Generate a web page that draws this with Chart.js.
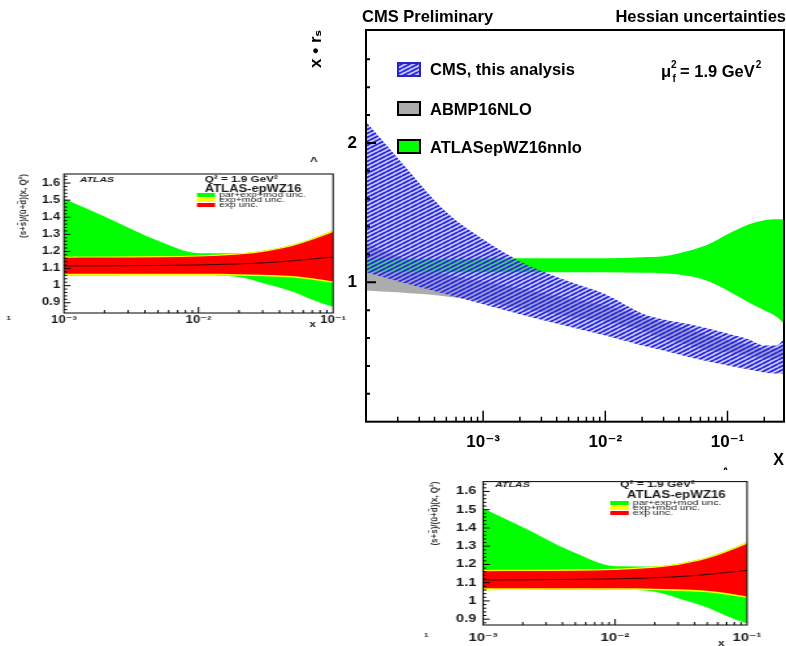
<!DOCTYPE html>
<html><head><meta charset="utf-8">
<script src="https://cdn.jsdelivr.net/npm/chart.js@4.4.1/dist/chart.umd.min.js"></script>
<style>
html,body{margin:0;padding:0;background:#fff;width:786px;height:646px;overflow:hidden;}
canvas{position:absolute;}
#main{left:290px;top:0;}
#insetL{left:0;top:150px;transform-origin:0 0;transform:scaleX(1.3);}
#insetB{left:420px;top:470px;transform-origin:0 0;transform:scaleX(1.33);}
</style></head><body>
<canvas id="main" width="496" height="470"></canvas>
<canvas id="insetL" width="277" height="185"></canvas>
<canvas id="insetB" width="275" height="176"></canvas>
<script>
// ---------- main CMS chart data ----------
const mainX      = [1.1e-4, 2e-4, 5e-4, 1e-3, 2e-3, 5e-3, 1e-2, 2e-2, 3e-2, 5e-2, 7e-2, 1e-1, 1.5e-1, 2e-1, 0.25, 0.29];
const cmsUpper   = [2.151, 1.892, 1.504, 1.309, 1.151, 1.007, 0.914, 0.777, 0.734, 0.698, 0.669, 0.633, 0.590, 0.547, 0.547, 0.590];
const cmsLower   = [1.072, 1.007, 0.914, 0.842, 0.770, 0.683, 0.619, 0.547, 0.511, 0.460, 0.432, 0.403, 0.374, 0.353, 0.345, 0.345];
const abmpUpper  = [1.281, 1.187, 1.058, 1.007, 0.957, 0.885, 0.835, 0.755, 0.712, 0.662, 0.619, 0.590, 0.554, 0.525, 0.525, 0.540];
const abmpLower  = [0.942, 0.928, 0.899, 0.863, 0.813, 0.755, 0.719, 0.655, 0.597, 0.547, 0.511, 0.496, 0.475, 0.453, 0.453, 0.460];
const atlasUpper = [1.165, 1.165, 1.165, 1.170, 1.173, 1.173, 1.173, 1.180, 1.187, 1.230, 1.273, 1.345, 1.417, 1.446, 1.452, 1.453];
const atlasLower = [1.072, 1.072, 1.072, 1.072, 1.072, 1.072, 1.072, 1.068, 1.065, 1.043, 1.007, 0.942, 0.856, 0.799, 0.755, 0.705];
const mainSeries = ['CMS, this analysis', 'ABMP16NLO', 'ATLASepWZ16nnlo'];
const mainXMajor = [1e-3, 1e-2, 1e-1];
const mainXLabels = ['10\u207B\u00B3', '10\u207B\u00B2', '10\u207B\u00B9'];
const mainYMajor = [1, 2];
const mainYLabels = ['1', '2'];

// ---------- ATLAS inset data ----------
const insetX    = [0.001, 0.002, 0.005, 0.01, 0.02, 0.03, 0.05, 0.07, 0.1];
const central   = [1.115, 1.116, 1.118, 1.121, 1.127, 1.133, 1.145, 1.156, 1.167];
const expUp     = [1.163, 1.164, 1.166, 1.170, 1.182, 1.197, 1.232, 1.268, 1.314];
const expLo     = [1.069, 1.069, 1.069, 1.069, 1.067, 1.064, 1.056, 1.043, 1.024];
const expModUp  = [1.170, 1.171, 1.173, 1.177, 1.189, 1.204, 1.239, 1.276, 1.323];
const expModLo  = [1.059, 1.060, 1.061, 1.061, 1.058, 1.055, 1.047, 1.034, 1.017];
const totUp     = [1.508, 1.404, 1.262, 1.190, 1.189, 1.204, 1.239, 1.276, 1.323];
const totLo     = [1.059, 1.060, 1.061, 1.061, 1.050, 1.015, 0.964, 0.918, 0.876];
const insetSeries = ['par+exp+mod unc.', 'exp+mod unc.', 'exp unc.'];
const insetXMajor = [1e-3, 1e-2, 1e-1];
const insetXLabels = ['10\u207B\u00B3', '10\u207B\u00B2', '10\u207B\u00B9'];
const insetYMajor = [0.9, 1.0, 1.1, 1.2, 1.3, 1.4, 1.5, 1.6];
const insetYLabels = ['0.9', '1', '1.1', '1.2', '1.3', '1.4', '1.5', '1.6'];

const FONT = '"Liberation Sans", Arial, "DejaVu Sans", sans-serif';
const pts = (xs, ys) => xs.map((x, i) => ({x: x, y: ys[i]}));

function logTicks(min, max) {
  const out = [];
  for (let e = -5; e <= 0; e++) {
    for (let m = 1; m <= 9; m++) {
      const v = parseFloat((m * Math.pow(10, e)).toPrecision(3));
      if (v >= min * 0.999 && v <= max * 1.001) out.push(v);
    }
  }
  return out;
}
function linTicks(min, max, step) {
  const out = [];
  const n0 = Math.ceil(min / step - 1e-6), n1 = Math.floor(max / step + 1e-6);
  for (let n = n0; n <= n1; n++) out.push(parseFloat((n * step).toFixed(4)));
  return out;
}
const isIn = (arr, v) => arr.findIndex(a => Math.abs(a - v) < 1e-9 * Math.max(1, Math.abs(a)) + 1e-12);

function makeHatch(ctx) {
  const c = document.createElement('canvas'); c.width = 8; c.height = 4;
  const g = c.getContext('2d');
  g.fillStyle = 'rgba(150,150,246,0.5)'; g.fillRect(0, 0, 8, 4);
  g.strokeStyle = 'rgb(40,40,228)'; g.lineWidth = 1.9;
  for (const dy of [-4, 0, 4]) { g.beginPath(); g.moveTo(0, 4 + dy); g.lineTo(8, dy); g.stroke(); }
  return ctx.createPattern(c, 'repeat');
}

const frameTicks = {
  id: 'frameTicks',
  afterDatasetsDraw(chart, args, o) {
    const {ctx, chartArea: a, scales: {x, y}} = chart;
    ctx.save();
    ctx.strokeStyle = '#000';
    ctx.lineWidth = o.tickWidth;
    ctx.beginPath();
    x.ticks.forEach(t => {
      const p = x.getPixelForValue(t.value);
      if (p < a.left + 1 || p > a.right - 1) return;
      const len = t.major ? o.xMajor : o.xMinor;
      ctx.moveTo(p, a.bottom); ctx.lineTo(p, a.bottom - len);
    });
    ctx.stroke();
    ctx.lineWidth = o.yTickWidth || o.tickWidth;
    ctx.beginPath();
    y.ticks.forEach(t => {
      const p = y.getPixelForValue(t.value);
      if (p < a.top + 1 || p > a.bottom - 1) return;
      const len = t.major ? o.yMajor : o.yMinor;
      ctx.moveTo(a.left, p); ctx.lineTo(a.left + len, p);
    });
    ctx.stroke();
    ctx.lineWidth = o.frameWidth;
    ctx.strokeRect(a.left, a.top, a.right - a.left, a.bottom - a.top);
    ctx.restore();
  }
};

function band(label, xs, up, lo, color) {
  return [
    {label: label, data: pts(xs, up), backgroundColor: color, borderColor: 'transparent', borderWidth: 0,
     pointRadius: 0, fill: '+1', cubicInterpolationMode: 'monotone'},
    {label: label + ' lower', data: pts(xs, lo), backgroundColor: color, borderColor: 'transparent', borderWidth: 0,
     pointRadius: 0, fill: false, cubicInterpolationMode: 'monotone'}
  ];
}

// ---------------- MAIN CHART ----------------
const mctx = document.getElementById('main').getContext('2d');
const hatch = makeHatch(mctx);
const GRAY = 'rgb(172,172,172)', GREEN = 'rgb(0,255,0)';

const mainText = {
  id: 'mainText',
  afterDraw(chart) {
    const ctx = chart.ctx;
    ctx.save();
    ctx.fillStyle = '#000';
    ctx.textBaseline = 'alphabetic';
    ctx.font = 'bold 16.5px ' + FONT;
    ctx.textAlign = 'left';
    ctx.fillText('CMS Preliminary', 72, 22);
    ctx.textAlign = 'right';
    ctx.fillText('Hessian uncertainties', 496, 22);
    // legend
    const boxes = [
      {y: 63, base: 75, fill: chart.data.datasets[0].backgroundColor, stroke: '#2626c8'},
      {y: 102, base: 115, fill: chart.data.datasets[4].backgroundColor, stroke: '#000'},
      {y: 140, base: 152.5, fill: chart.data.datasets[2].backgroundColor, stroke: '#000'}
    ];
    ctx.textAlign = 'left';
    boxes.forEach((b, i) => {
      ctx.fillStyle = '#fff';
      ctx.fillRect(108, b.y, 22, 13);
      ctx.fillStyle = b.fill;
      ctx.fillRect(108, b.y, 22, 13);
      ctx.lineWidth = 2; ctx.strokeStyle = b.stroke;
      ctx.strokeRect(108, b.y, 22, 13);
      ctx.fillStyle = '#000';
      ctx.font = 'bold 16.5px ' + FONT;
      ctx.fillText(mainSeries[i], 140, b.base);
    });
    // mu_f^2 = 1.9 GeV^2
    ctx.font = 'bold 16.5px ' + FONT;
    ctx.fillText('\u03BC', 371, 77);
    ctx.font = 'bold 10px ' + FONT;
    ctx.fillText('2', 381, 68);
    ctx.fillText('f', 382.5, 82);
    ctx.font = 'bold 16.5px ' + FONT;
    const s = '= 1.9 GeV';
    ctx.fillText(s, 390, 77);
    const w = ctx.measureText(s).width;
    ctx.font = 'bold 10px ' + FONT;
    ctx.fillText('2', 390 + w + 1, 68);
    ctx.font = 'bold 12px ' + FONT;
    ctx.fillText('^', 432, 476);
    ctx.restore();
  }
};

const mXTicks = logTicks(1.1e-4, 0.29);
const mYTicks = linTicks(0.2, 2.6, 0.2);

new Chart(mctx, {
  type: 'line',
  data: {
    datasets: [
      ...band(mainSeries[0], mainX, cmsUpper, cmsLower, hatch),
      ...band(mainSeries[2], mainX, atlasUpper, atlasLower, GREEN),
      ...band(mainSeries[1], mainX, abmpUpper, abmpLower, GRAY)
    ]
  },
  options: {
    responsive: false, animation: false, devicePixelRatio: 1,
    layout: {padding: {left: 0, top: 30, right: 2, bottom: 0}},
    plugins: {legend: {display: false}, tooltip: {enabled: false},
      frameTicks: {tickWidth: 1.5, yTickWidth: 2, xMajor: 11, xMinor: 5, yMajor: 10, yMinor: 4, frameWidth: 2}},
    scales: {
      x: {
        type: 'logarithmic', min: 1.1e-4, max: 0.29,
        afterBuildTicks: s => { s.ticks = mXTicks.map(v => ({value: v, major: isIn(mainXMajor, v) >= 0})); },
        afterFit: s => { s.height = 48.3; },
        grid: {display: false, drawTicks: false}, border: {display: false},
        ticks: {autoSkip: false, maxRotation: 0, minRotation: 0, padding: 10, color: '#000',
          font: {family: FONT, size: 17, weight: 'bold'},
          callback: v => { const i = isIn(mainXMajor, v); return i >= 0 ? mainXLabels[i] : ''; }},
        title: {display: true, text: 'X', align: 'end', color: '#000',
          font: {family: FONT, size: 16, weight: 'bold'}, padding: {top: 0, bottom: 0}}
      },
      y: {
        type: 'linear', min: 0, max: 2.81,
        afterBuildTicks: s => { s.ticks = mYTicks.map(v => ({value: v, major: isIn(mainYMajor, v) >= 0})); },
        afterFit: s => { s.width = 76; },
        grid: {display: false, drawTicks: false}, border: {display: false},
        ticks: {autoSkip: false, padding: 9, color: '#000', font: {family: FONT, size: 17, weight: 'bold'},
          callback: v => { const i = isIn(mainYMajor, v); return i >= 0 ? mainYLabels[i] : ''; }},
        title: {display: true, text: 'x \u2022 r\u209B', align: 'end', color: '#000',
          font: {family: FONT, size: 17, weight: 'bold'}, padding: {top: 16, bottom: 0}}
      }
    }
  },
  plugins: [frameTicks, mainText]
});

// ---------------- ATLAS INSETS ----------------
function insetText(cfg) {
  return {
    id: 'insetText',
    afterDraw(chart) {
      const ctx = chart.ctx;
      ctx.save();
      ctx.fillStyle = '#1a1a1a';
      ctx.textBaseline = 'middle';
      ctx.textAlign = 'left';
      ctx.font = 'italic bold 8px ' + FONT;
      ctx.fillText('ATLAS', cfg.atlas[0], cfg.atlas[1]);
      ctx.font = 'bold 9px ' + FONT;
      ctx.fillText('Q\u00B2 = 1.9 GeV\u00B2', cfg.q2[0], cfg.q2[1]);
      ctx.font = 'bold 10px ' + FONT;
      ctx.fillText('ATLAS-epWZ16', cfg.title[0], cfg.title[1]);
      const cols = [chart.data.datasets[5].backgroundColor, chart.data.datasets[3].backgroundColor, chart.data.datasets[1].backgroundColor];
      ctx.font = '8px ' + FONT;
      cols.forEach((c, i) => {
        ctx.fillStyle = c;
        ctx.fillRect(cfg.leg[0], cfg.leg[1] + i * 5, 14, 4);
        ctx.fillStyle = '#1a1a1a';
        ctx.fillText(insetSeries[i], cfg.leg[0] + 17, cfg.leg[1] + 2 + i * 5);
      });
      ctx.font = 'bold 9px ' + FONT;
      ctx.fillText('x', cfg.xl[0], cfg.xl[1]);
      ctx.font = 'bold 6px ' + FONT;
      ctx.fillText('1', cfg.one[0], cfg.one[1]);
      if (cfg.hat) { ctx.font = 'bold 10px ' + FONT; ctx.fillText('^', cfg.hat[0], cfg.hat[1]); }
      ctx.restore();
    }
  };
}

const iXTicks = logTicks(1e-3, 1e-1);
const iYTicks = linTicks(0.86, 1.64, 0.02);

function makeInset(id, geo) {
  const ctx = document.getElementById(id).getContext('2d');
  const RED = 'rgb(255,0,0)', YEL = 'rgb(255,255,0)', GRN = 'rgb(0,255,0)';
  new Chart(ctx, {
    type: 'line',
    data: {
      datasets: [
        {label: 'central', data: pts(insetX, central), borderColor: 'rgba(20,0,0,0.85)', borderWidth: 1,
         pointRadius: 0, fill: false, cubicInterpolationMode: 'monotone'},
        ...band(insetSeries[2], insetX, expUp, expLo, RED),
        ...band(insetSeries[1], insetX, expModUp, expModLo, YEL),
        ...band(insetSeries[0], insetX, totUp, totLo, GRN)
      ]
    },
    options: {
      responsive: false, animation: false, devicePixelRatio: 1,
      layout: {padding: {left: 0, top: geo.top, right: geo.right, bottom: 0}},
      plugins: {legend: {display: false}, tooltip: {enabled: false},
        frameTicks: {tickWidth: 1, xMajor: 6, xMinor: 3, yMajor: 5, yMinor: 2.5, frameWidth: 1}},
      scales: {
        x: {
          type: 'logarithmic', min: 1e-3, max: 1e-1,
          afterBuildTicks: s => { s.ticks = iXTicks.map(v => ({value: v, major: isIn(insetXMajor, v) >= 0})); },
          afterFit: s => { s.height = geo.xh; },
          grid: {display: false, drawTicks: false}, border: {display: false},
          ticks: {autoSkip: false, maxRotation: 0, minRotation: 0, padding: geo.xpad, color: '#1a1a1a',
            font: {family: FONT, size: geo.fs, weight: 'bold'},
            callback: v => { const i = isIn(insetXMajor, v); return i >= 0 ? insetXLabels[i] : ''; }}
        },
        y: {
          type: 'linear', min: geo.ymin, max: geo.ymax,
          afterBuildTicks: s => { s.ticks = iYTicks.map(v => ({value: v, major: isIn(insetYMajor, v) >= 0})); },
          afterFit: s => { s.width = geo.yw; },
          grid: {display: false, drawTicks: false}, border: {display: false},
          ticks: {autoSkip: false, padding: geo.ypad, color: '#1a1a1a', font: {family: FONT, size: geo.fs, weight: 'bold'},
            callback: v => { const i = isIn(insetYMajor, v); return i >= 0 ? insetYLabels[i] : ''; }},
          title: {display: true, text: '(s+s\u0304)/(\u016B+d\u0304)(x, Q\u00B2)', align: 'end', color: '#333',
            font: {family: FONT, size: 8, weight: 'bold'}, padding: {top: geo.tpad, bottom: 0}}
        }
      }
    },
    plugins: [frameTicks, insetText(geo.text)]
  });
}

makeInset('insetL', {top: 24, right: 20.8, xh: 22, yw: 49.2, fs: 10, xpad: 1, ypad: 3, tpad: 13,
  ymin: 0.84, ymax: 1.653,
  text: {atlas: [61.5, 30], q2: [157.5, 30], title: [157.5, 39.5], leg: [151.5, 43], xl: [238, 175], one: [5, 168], hat: [238.5, 12]}});
makeInset('insetB', {top: 9, right: 29.1, xh: 21, yw: 47.4, fs: 11, xpad: 6, ypad: 5, tpad: 5.5,
  ymin: 0.868, ymax: 1.654,
  text: {atlas: [56.4, 15], q2: [150.4, 15], title: [155.6, 25], leg: [143, 31], xl: [224, 174], one: [3, 165]}});
</script>
</body></html>
